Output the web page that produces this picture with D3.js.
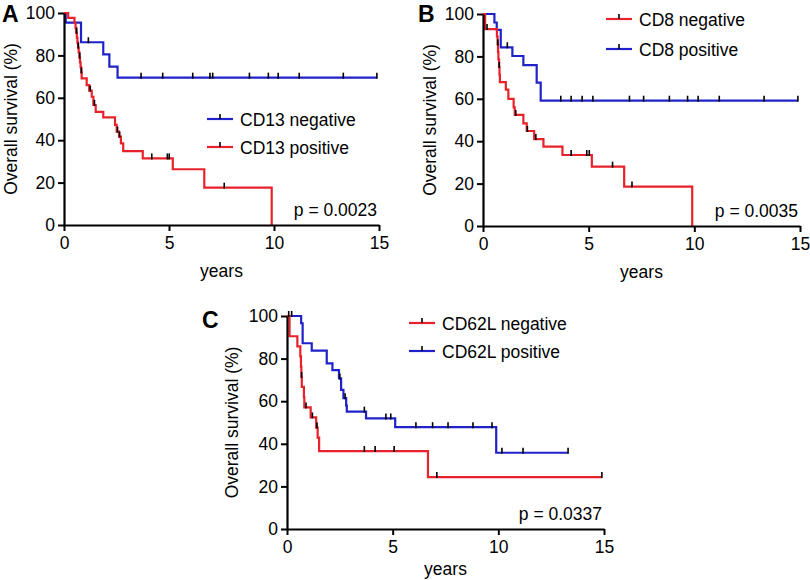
<!DOCTYPE html>
<html><head><meta charset="utf-8">
<script src="https://cdn.jsdelivr.net/npm/d3@7"></script>
<style>body{margin:0;background:#fff}svg{display:block}text{font-family:"Liberation Sans",Arial,sans-serif}</style>
</head><body><svg id="c" width="810" height="580"></svg>
<script>
const xTicks = [0, 5, 10, 15];
const yTicks = [0, 20, 40, 60, 80, 100];

// Panel A
const cd13NegSteps = [[0,100],[0.08,95.5],[0.81,86.2],[1.87,80.5],[2.16,74.7],[2.55,69.5]];
const cd13NegEnd = 14.9;
const cd13NegCensor = [1.16,3.67,4.7,6.13,6.95,7.08,8.83,9.73,10.2,11.2,13.3,14.9];
const cd13PosSteps = [[0,100],[0.2,97.7],[0.5,95.4],[0.55,93],[0.58,90.7],[0.61,88.4],[0.64,86],[0.67,83.7],[0.7,81.4],[0.73,79],[0.76,76.7],[0.79,74.4],[0.82,72],[0.84,69.2],[1.08,66],[1.2,63.4],[1.32,60.5],[1.4,56.6],[1.51,53.4],[1.87,50.8],[2.43,47.2],[2.51,44],[2.62,41.7],[2.71,38.5],[2.82,34.8],[3.75,31.4],[5.18,26.3],[6.68,17.6],[9.89,0]];
const cd13PosEnd = 9.89;
const cd13PosCensor = [0.6,0.68,0.75,0.83,1.25,1.45,2.55,2.65,4.18,4.92,5.01,7.63];

// Panel B
const cd8NegSteps = [[0,100],[0.1,92.9],[0.66,89.3],[0.69,85.7],[0.71,82.1],[0.73,78.6],[0.76,75],[0.78,71.4],[0.8,67.9],[1.08,64.3],[1.2,60],[1.45,56],[1.5,52.4],[1.91,48.4],[2.07,44.8],[2.42,41],[2.86,37.4],[3.76,33.5],[5.15,28],[6.68,18.6],[9.9,0]];
const cd8NegEnd = 9.9;
const cd8NegCensor = [0.19,0.7,0.77,1.55,2.1,2.5,4.17,4.91,5.03,6.13,7.05];
const cd8PosSteps = [[0,100],[0.54,96],[0.65,92.5],[0.84,84.3],[1.39,80.2],[1.91,75.9],[2.54,67.6],[2.73,59.1]];
const cd8PosEnd = 14.9;
const cd8PosCensor = [1.15,3.68,4.17,4.69,5.2,6.93,7.6,8.82,9.68,10.18,11.18,13.3,14.9];

// Panel C
const cd62lNegSteps = [[0,100],[0.12,90.5],[0.49,85.7],[0.63,81],[0.66,76.2],[0.68,71.4],[0.7,66.7],[0.8,61.9],[0.82,57.1],[1.12,52.4],[1.38,47.6],[1.45,42.9],[1.52,36.6],[6.67,24.4]];
const cd62lNegEnd = 14.9;
const cd62lNegCensor = [0.08,0.69,0.9,1.2,1.42,3.66,4.17,5.07,7.09,14.9];
const cd62lPosSteps = [[0,100],[0.67,96.6],[0.74,87.2],[1.17,83.7],[1.88,77.8],[2.15,74.6],[2.46,70.7],[2.56,65.3],[2.67,61.4],[2.8,57.9],[2.83,55.1],[3.74,51.9],[5.12,47.8],[9.9,35.8]];
const cd62lPosEnd = 13.3;
const cd62lPosCensor = [0.22,2.5,2.75,3.66,4.68,4.91,6.1,6.89,7.62,8.8,9.7,10.17,11.17,13.3];

const RED = "#e8222a", BLUE = "#1f22c8";
const FS = 17.5;
const svg = d3.select("#c");

function survAt(steps, t){ let v = steps[0][1]; for(const s of steps){ if(s[0] <= t) v = s[1]; } return v; }

function panel(cfg){
  const x = d3.scaleLinear().domain([0,15]).range([cfg.x0, cfg.x1]);
  const y = d3.scaleLinear().domain([0,100]).range([cfg.yb, cfg.yt]);
  const g = svg.append("g");
  const line = d3.line().x(d=>x(d[0])).y(d=>y(d[1])).curve(d3.curveStepAfter);
  cfg.series.forEach(s=>{
    const pts = s.steps.slice();
    const last = pts[pts.length-1];
    if (s.end > last[0]) pts.push([s.end, last[1]]);
    g.append("path").attr("d", line(pts)).attr("fill","none").attr("stroke", s.color).attr("stroke-width",2.2);
    g.selectAll(null).data(s.censor).enter().append("line")
      .attr("x1", d=>x(d)).attr("x2", d=>x(d))
      .attr("y1", d=>y(survAt(s.steps,d))-5).attr("y2", d=>y(survAt(s.steps,d))+1)
      .attr("stroke","#000").attr("stroke-width",1.6);
  });
  const ax = g.append("g").attr("transform",`translate(0,${cfg.yb})`)
    .call(d3.axisBottom(x).tickValues(xTicks).tickSize(6).tickSizeOuter(0).tickPadding(6).tickFormat(d3.format("d")));
  const ay = g.append("g").attr("transform",`translate(${cfg.x0},0)`)
    .call(d3.axisLeft(y).tickValues(yTicks).tickSize(6).tickSizeOuter(0).tickPadding(3));
  [ax, ay].forEach(a=>{
    a.select(".domain").attr("stroke","#000").attr("stroke-width",2.2);
    a.selectAll(".tick line").attr("stroke","#000").attr("stroke-width",2);
    a.selectAll(".tick text").attr("font-size",FS).attr("fill","#000").attr("font-family","Liberation Sans, Arial, sans-serif");
  });
  g.append("text").attr("transform",`translate(${cfg.ytx},${(cfg.yt+cfg.yb)/2}) rotate(-90)`)
    .attr("text-anchor","middle").attr("font-size",FS).text("Overall survival (%)");
  g.append("text").attr("x",(cfg.x0+cfg.x1)/2).attr("y",cfg.yb+cfg.yearsDy).attr("text-anchor","middle").attr("font-size",FS).text("years");
  g.append("text").attr("x",cfg.x1-2).attr("y",cfg.yb-9).attr("text-anchor","end").attr("font-size",FS).text(cfg.p);
  g.append("text").attr("x",cfg.lx).attr("y",cfg.ly).attr("font-size",23).attr("font-weight","bold").text(cfg.label);
  cfg.legend.forEach((l,i)=>{
    const ly = cfg.legY + i*cfg.legDy;
    g.append("line").attr("x1",cfg.legX).attr("x2",cfg.legX+26).attr("y1",ly).attr("y2",ly).attr("stroke",l.color).attr("stroke-width",2.2);
    g.append("line").attr("x1",cfg.legX+13).attr("x2",cfg.legX+13).attr("y1",ly-5).attr("y2",ly).attr("stroke","#000").attr("stroke-width",1.6);
    g.append("text").attr("x",cfg.legX+33).attr("y",ly+6.5).attr("font-size",FS).text(l.name);
  });
}

panel({x0:64,x1:379,yt:13,yb:225,ytx:17,p:"p = 0.0023",label:"A",lx:2,ly:22,yearsDy:52,
  legX:207,legY:119,legDy:28,
  legend:[{name:"CD13 negative",color:BLUE},{name:"CD13 positive",color:RED}],
  series:[{steps:cd13NegSteps,end:cd13NegEnd,censor:cd13NegCensor,color:BLUE},
          {steps:cd13PosSteps,end:cd13PosEnd,censor:cd13PosCensor,color:RED}]});
panel({x0:483,x1:800,yt:14,yb:226,ytx:436,p:"p = 0.0035",label:"B",lx:418,ly:22,yearsDy:52,
  legX:606,legY:19,legDy:30,
  legend:[{name:"CD8 negative",color:RED},{name:"CD8 positive",color:BLUE}],
  series:[{steps:cd8PosSteps,end:cd8PosEnd,censor:cd8PosCensor,color:BLUE},
          {steps:cd8NegSteps,end:cd8NegEnd,censor:cd8NegCensor,color:RED}]});
panel({x0:287,x1:604,yt:316,yb:529,ytx:238,p:"p = 0.0337",label:"C",lx:202,ly:328,yearsDy:46,
  legX:409,legY:323,legDy:28,
  legend:[{name:"CD62L negative",color:RED},{name:"CD62L positive",color:BLUE}],
  series:[{steps:cd62lPosSteps,end:cd62lPosEnd,censor:cd62lPosCensor,color:BLUE},
          {steps:cd62lNegSteps,end:cd62lNegEnd,censor:cd62lNegCensor,color:RED}]});
</script></body></html>
